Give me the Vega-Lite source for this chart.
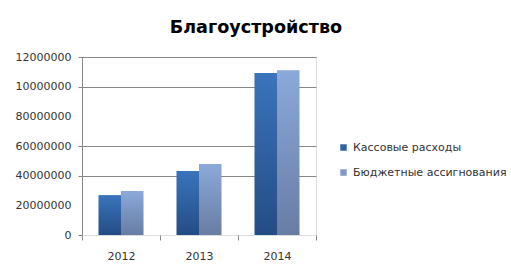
{
  "$schema": "https://vega.github.io/schema/vega-lite/v6.json",
  "width": 234,
  "height": 178,
  "autosize": {"type": "none"},
  "padding": {"left": 82, "top": 57, "right": 195, "bottom": 43},
  "background": "white",
  "title": {
    "text": "Благоустройство",
    "font": "DejaVu Sans",
    "fontSize": 17.6,
    "fontWeight": "bold",
    "color": "black",
    "anchor": "middle",
    "dx": 57,
    "offset": 14
  },
  "data": {
    "values": [
      {"year": "2012", "series": "Кассовые расходы", "value": 26900000},
      {"year": "2012", "series": "Бюджетные ассигнования", "value": 29600000},
      {"year": "2013", "series": "Кассовые расходы", "value": 43100000},
      {"year": "2013", "series": "Бюджетные ассигнования", "value": 47800000},
      {"year": "2014", "series": "Кассовые расходы", "value": 109200000},
      {"year": "2014", "series": "Бюджетные ассигнования", "value": 111000000}
    ]
  },
  "encoding": {
    "x": {
      "field": "year",
      "type": "nominal",
      "scale": {"paddingInner": 0, "paddingOuter": 0},
      "axis": {
        "title": null,
        "labelAngle": 0,
        "labelFont": "DejaVu Sans",
        "labelFontSize": 11,
        "labelColor": "#333333",
        "domain": false,
        "tickBand": "extent",
        "tickColor": "#868686",
        "tickSize": 5,
        "labelPadding": 10,
        "grid": false
      }
    },
    "xOffset": {
      "field": "series",
      "type": "nominal",
      "scale": {"domain": ["Кассовые расходы", "Бюджетные ассигнования"], "paddingInner": 0, "paddingOuter": 0.733}
    },
    "y": {
      "field": "value",
      "type": "quantitative",
      "scale": {"domain": [0, 120000000], "nice": false},
      "axis": {
        "title": null,
        "values": [0, 20000000, 40000000, 60000000, 80000000, 100000000, 120000000],
        "labelExpr": "datum.value == 120000000 ? '12000000' : datum.value == 100000000 ? '10000000' : format(datum.value, 'd')",
        "labelFont": "DejaVu Sans",
        "labelFontSize": 11,
        "labelColor": "#333333",
        "domainColor": "#868686",
        "tickColor": "#868686",
        "tickSize": 4,
        "labelPadding": 7,
        "gridColor": "#868686",
        "gridOpacity": {"condition": {"test": "datum.value == 0 || datum.value == 20000000 || datum.value == 80000000", "value": 0}, "value": 1},
        "tickOpacity": {"condition": {"test": "datum.value == 20000000 || datum.value == 80000000", "value": 0}, "value": 1}
      }
    }
  },
  "layer": [
    {
      "transform": [{"filter": "datum.series == 'Кассовые расходы'"}],
      "mark": {
        "type": "bar",
        "color": {
          "gradient": "linear", "x1": 0, "y1": 0, "x2": 0, "y2": 1,
          "stops": [{"offset": 0, "color": "#3A74BC"}, {"offset": 1, "color": "#244C84"}]
        }
      }
    },
    {
      "transform": [{"filter": "datum.series == 'Бюджетные ассигнования'"}],
      "mark": {
        "type": "bar",
        "color": {
          "gradient": "linear", "x1": 0, "y1": 0, "x2": 0, "y2": 1,
          "stops": [{"offset": 0, "color": "#8BA9DA"}, {"offset": 1, "color": "#687DA3"}]
        }
      }
    },
    {
      "transform": [{"filter": "false"}],
      "mark": {"type": "bar"},
      "encoding": {
        "color": {
          "field": "series",
          "type": "nominal",
          "scale": {"domain": ["Кассовые расходы", "Бюджетные ассигнования"], "range": ["#2F62A6", "#8099C8"]},
          "legend": {
            "title": null,
            "orient": "none",
            "legendX": 256,
            "legendY": 85,
            "padding": 0,
            "symbolType": "square",
            "symbolSize": 42,
            "symbolStrokeWidth": 0,
            "labelFont": "DejaVu Sans",
            "labelFontSize": 11,
            "labelColor": "#333333",
            "labelOffset": 4,
            "rowPadding": 13
          }
        }
      }
    }
  ]
}
